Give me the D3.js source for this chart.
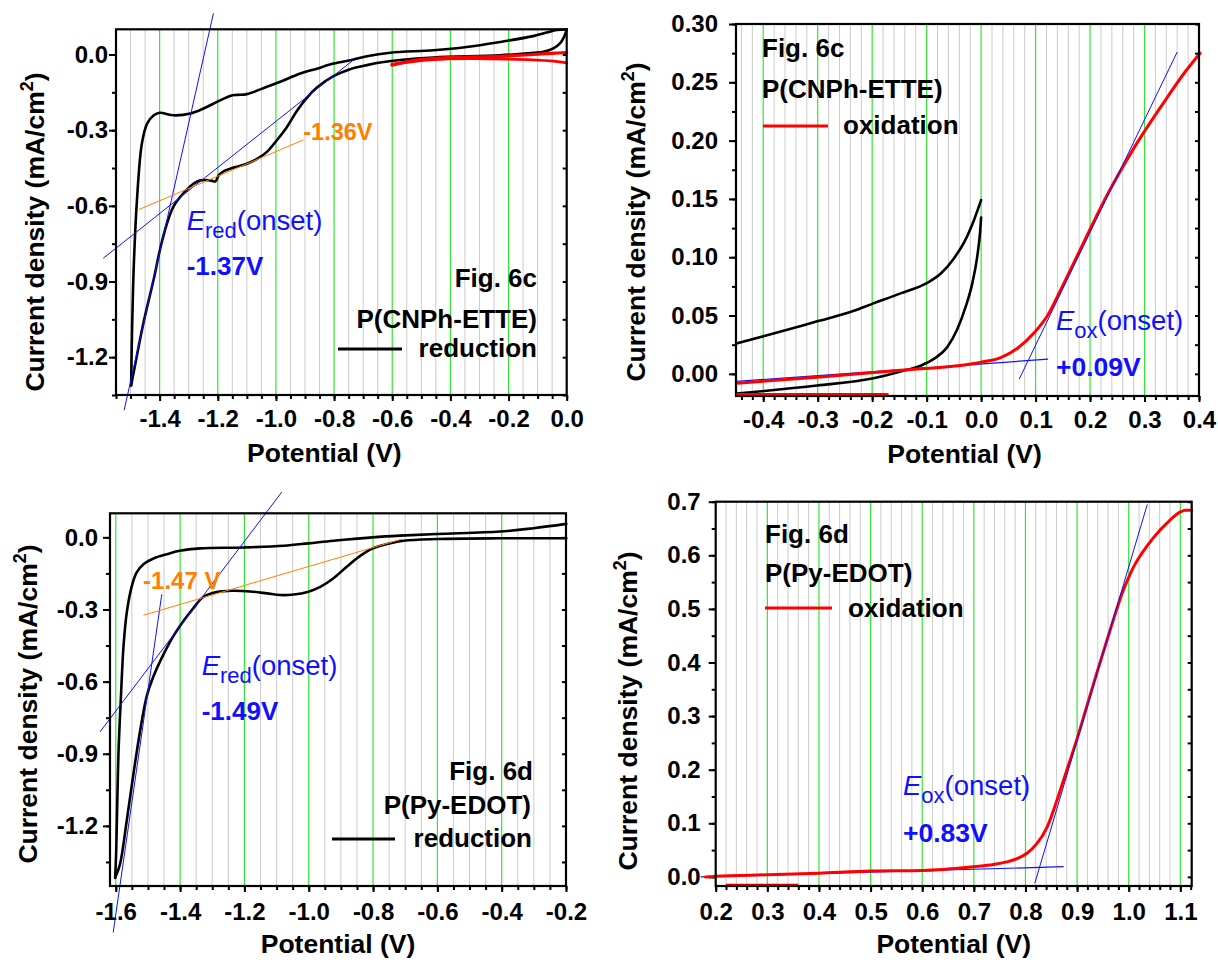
<!DOCTYPE html>
<html>
<head>
<meta charset="utf-8">
<script src="https://cdn.jsdelivr.net/npm/d3@7"></script>
<style>
  body { margin: 0; background: #fff; }
  svg text { font-family: "Liberation Sans", Arial, Helvetica, sans-serif; }
</style>
</head>
<body>
<svg id="chart" width="1218" height="960"></svg>
<script>
// ---------- Fig. 6c : P(CNPh-ETTE) ----------
// reduction CV, cathodic sweep (0 V -> -1.5 V)
const cnphRedForward = [[0,0.099],[-0.009,0.070],[-0.023,0.044],[-0.046,0.024],[-0.080,0.011],[-0.115,0.007],[-0.229,-0.003],[-0.458,-0.012],[-0.573,-0.022],[-0.630,-0.030],[-0.687,-0.042],[-0.745,-0.058],[-0.802,-0.086],[-0.859,-0.131],[-0.893,-0.171],[-0.928,-0.224],[-0.962,-0.287],[-0.997,-0.340],[-1.031,-0.386],[-1.065,-0.414],[-1.100,-0.433],[-1.145,-0.448],[-1.180,-0.463],[-1.197,-0.479],[-1.208,-0.503],[-1.226,-0.499],[-1.260,-0.499],[-1.283,-0.512],[-1.317,-0.549],[-1.352,-0.602],[-1.375,-0.671],[-1.398,-0.770],[-1.420,-0.889],[-1.455,-1.061],[-1.478,-1.193],[-1.498,-1.312]];
// reduction CV, return sweep (-1.5 V -> 0 V)
const cnphRedReverse = [[-1.498,-1.312],[-1.495,-1.107],[-1.489,-0.843],[-1.478,-0.578],[-1.461,-0.353],[-1.443,-0.274],[-1.420,-0.241],[-1.400,-0.231],[-1.352,-0.241],[-1.294,-0.234],[-1.249,-0.214],[-1.203,-0.188],[-1.157,-0.164],[-1.134,-0.160],[-1.100,-0.157],[-1.031,-0.128],[-0.985,-0.108],[-0.916,-0.075],[-0.859,-0.056],[-0.802,-0.036],[-0.733,-0.020],[-0.687,-0.007],[-0.607,0.007],[-0.458,0.017],[-0.344,0.030],[-0.229,0.050],[-0.115,0.073],[-0.069,0.087],[-0.034,0.097],[0,0.099]];
// oxidation trace inside the reduction window
const cnphOxWindowUpper = [[-0.601,-0.042],[-0.515,-0.022],[-0.401,-0.012],[-0.229,-0.007],[-0.115,0.000],[0,0.008]];
const cnphOxWindowLower = [[-0.601,-0.038],[-0.458,-0.020],[-0.344,-0.016],[-0.172,-0.019],[-0.057,-0.025],[0,-0.033]];
// onset construction lines
const cnphRedTangentSteep = [[-1.215,0.163],[-1.522,-1.41]];
const cnphRedTangentBase = [[-1.594,-0.808],[-0.734,-0.022]];
const cnphRedTangentShoulder = [[-1.470,-0.614],[-0.906,-0.339]];

// oxidation window, black sweeps
const cnphScanUpper = [[-0.449,0.026],[-0.393,0.033],[-0.301,0.045],[-0.240,0.053],[-0.200,0.060],[-0.148,0.069],[-0.099,0.078],[-0.074,0.086],[-0.050,0.099],[-0.031,0.113],[-0.013,0.132],[0,0.149]];
const cnphScanLower = [[-0.449,-0.017],[-0.301,-0.010],[-0.200,-0.004],[-0.148,0.002],[-0.111,0.007],[-0.086,0.013],[-0.062,0.023],[-0.044,0.038],[-0.028,0.058],[-0.016,0.078],[-0.007,0.101],[-0.002,0.121],[0,0.134]];
// oxidation sweep
const cnphOxidation = [[-0.449,-0.008],[-0.301,-0.003],[-0.148,0.003],[0,0.010],[0.036,0.014],[0.067,0.022],[0.097,0.035],[0.122,0.050],[0.146,0.072],[0.171,0.096],[0.200,0.124],[0.220,0.143],[0.251,0.170],[0.281,0.194],[0.300,0.208],[0.343,0.238],[0.373,0.258],[0.402,0.275]];
const cnphOxTail = [[-0.449,-0.0172],[-0.170,-0.0172]];
const cnphOxTangentSteep = [[0.070,-0.0045],[0.360,0.276]];
const cnphOxTangentBase = [[-0.449,-0.0065],[0.123,0.0126]];

// ---------- Fig. 6d : P(Py-EDOT) ----------
const pyRedForward = [[-0.199,-0.004],[-0.405,-0.004],[-0.601,-0.007],[-0.705,-0.014],[-0.757,-0.028],[-0.801,-0.046],[-0.840,-0.077],[-0.881,-0.121],[-0.923,-0.170],[-0.964,-0.206],[-1.001,-0.226],[-1.047,-0.238],[-1.089,-0.240],[-1.130,-0.233],[-1.182,-0.225],[-1.234,-0.222],[-1.286,-0.227],[-1.327,-0.247],[-1.358,-0.293],[-1.390,-0.349],[-1.421,-0.411],[-1.452,-0.488],[-1.483,-0.579],[-1.504,-0.662],[-1.524,-0.802],[-1.545,-0.983],[-1.566,-1.179],[-1.587,-1.360],[-1.602,-1.416]];
const pyRedReverse = [[-1.602,-1.416],[-1.599,-1.318],[-1.595,-1.081],[-1.591,-0.872],[-1.584,-0.662],[-1.576,-0.453],[-1.566,-0.314],[-1.550,-0.202],[-1.535,-0.146],[-1.514,-0.112],[-1.483,-0.088],[-1.441,-0.070],[-1.402,-0.056],[-1.338,-0.046],[-1.202,-0.042],[-1.078,-0.035],[-1.001,-0.025],[-0.923,-0.014],[-0.801,0.000],[-0.716,0.007],[-0.601,0.014],[-0.405,0.024],[-0.301,0.038],[-0.199,0.056]];
const pyRedTangentSteep = [[-1.457,-0.237],[-1.608,-1.643]];
const pyRedTangentBase = [[-1.649,-0.809],[-1.084,0.188]];
const pyRedTangentShoulder = [[-1.514,-0.324],[-0.710,-0.007]];

const pyOxidation = [[0.180,0.000],[0.201,0.001],[0.300,0.004],[0.400,0.007],[0.501,0.011],[0.600,0.012],[0.700,0.019],[0.738,0.023],[0.764,0.028],[0.784,0.034],[0.803,0.044],[0.822,0.062],[0.842,0.093],[0.861,0.143],[0.880,0.199],[0.900,0.258],[0.920,0.322],[0.940,0.386],[0.960,0.448],[0.975,0.494],[0.988,0.531],[1.000,0.559],[1.012,0.583],[1.025,0.603],[1.048,0.633],[1.074,0.660],[1.100,0.681],[1.110,0.684],[1.122,0.684]];
const pyOxTail = [[0.220,-0.0148],[0.360,-0.0148]];
const pyOxTangentSteep = [[0.818,-0.012],[1.036,0.695]];
const pyOxTangentBase = [[0.171,0.000],[0.874,0.019]];

// ---------- tick labels ----------
const xTicksA = [-1.4,-1.2,-1.0,-0.8,-0.6,-0.4,-0.2,0.0];
const yTicksA = [0.0,-0.3,-0.6,-0.9,-1.2];
const xTicksB = [-0.4,-0.3,-0.2,-0.1,0.0,0.1,0.2,0.3,0.4];
const yTicksB = [0.00,0.05,0.10,0.15,0.20,0.25,0.30];
const xTicksC = [-1.6,-1.4,-1.2,-1.0,-0.8,-0.6,-0.4,-0.2];
const yTicksC = [0.0,-0.3,-0.6,-0.9,-1.2];
const xTicksD = [0.2,0.3,0.4,0.5,0.6,0.7,0.8,0.9,1.0,1.1];
const yTicksD = [0.0,0.1,0.2,0.3,0.4,0.5,0.6,0.7];

const BLUE = "#1010ff", ORANGE = "#ff8000", RED = "#ff0000";
const svg = d3.select("#chart");

const fmt = dec => v => (v < -1e-9 ? "-" : "") + Math.abs(v).toFixed(dec);
function steps(dom, step) {
  const out = [];
  const lo = Math.ceil(Math.min(...dom) / step - 1e-6), hi = Math.floor(Math.max(...dom) / step + 1e-6);
  for (let i = lo; i <= hi; i++) out.push(+(i * step).toFixed(6));
  return out;
}

function drawPanel(p) {
  const x = d3.scaleLinear().domain(p.xDom).range([p.box.l, p.box.r]);
  const y = d3.scaleLinear().domain(p.yDom).range([p.box.b, p.box.t]);
  const g = svg.append("g");
  const inside = v => x(v) > p.box.l + 1.5 && x(v) < p.box.r - 1.5;
  const isMajor = v => p.xTicks.some(t => Math.abs(t - v) < 1e-6);

  // vertical grid: grey at every minor step, green at labelled ticks
  const gx = steps(p.xDom, p.xMinor).filter(inside);
  g.append("g").selectAll("line").data(gx.filter(v => !isMajor(v))).join("line")
    .attr("x1", d => x(d)).attr("x2", d => x(d)).attr("y1", p.box.t).attr("y2", p.box.b)
    .attr("stroke", "#cbcbcb").attr("stroke-width", 1);
  g.append("g").selectAll("line").data(p.xTicks.filter(inside)).join("line")
    .attr("x1", d => x(d)).attr("x2", d => x(d)).attr("y1", p.box.t).attr("y2", p.box.b)
    .attr("stroke", "#33e633").attr("stroke-width", 1.2);

  const styleAxis = s => {
    s.select(".domain").remove();
    s.selectAll("line").attr("stroke", "#000").attr("stroke-width", 2);
    s.selectAll("text").attr("font-size", 24).attr("font-weight", "bold").attr("fill", "#000")
      .attr("font-family", '"Liberation Sans", Arial, sans-serif');
  };
  // bottom axis: minor then major
  g.append("g").attr("transform", `translate(0,${p.box.b})`)
    .call(d3.axisBottom(x).tickValues(steps(p.xDom, p.xMinor)).tickSize(4).tickSizeOuter(0).tickFormat(() => ""))
    .call(styleAxis);
  g.append("g").attr("transform", `translate(0,${p.box.b})`)
    .call(d3.axisBottom(x).tickValues(p.xTicks).tickSize(6).tickSizeOuter(0).tickPadding(p.xPad).tickFormat(fmt(p.xDec)))
    .call(styleAxis);
  // left axis
  g.append("g").attr("transform", `translate(${p.box.l},0)`)
    .call(d3.axisLeft(y).tickValues(steps(p.yDom, p.yMinor)).tickSize(4).tickSizeOuter(0).tickFormat(() => ""))
    .call(styleAxis);
  g.append("g").attr("transform", `translate(${p.box.l},0)`)
    .call(d3.axisLeft(y).tickValues(p.yTicks).tickSize(7).tickSizeOuter(0).tickPadding(p.yPad).tickFormat(fmt(p.yDec)))
    .call(styleAxis);
  // mirrored inward ticks on the right edge
  g.append("g").attr("transform", `translate(${p.box.r},0)`)
    .call(d3.axisLeft(y).tickValues(steps(p.yDom, p.yMinor)).tickSize(4).tickSizeOuter(0).tickFormat(() => ""))
    .call(styleAxis);

  const loop = d3.line().x(d => x(d[0])).y(d => y(d[1])).curve(d3.curveCatmullRom.alpha(0.5));
  const sweep = d3.line().x(d => x(d[0])).y(d => y(d[1])).curve(d3.curveMonotoneX);
  const straight = d3.line().x(d => x(d[0])).y(d => y(d[1]));

  p.curves.forEach(c => {
    const gen = c.straight ? straight : (c.mono ? sweep : loop);
    g.append("path").attr("d", gen(c.data))
      .attr("fill", "none").attr("stroke", c.color).attr("stroke-width", c.width)
      .attr("stroke-linejoin", "round").attr("stroke-linecap", c.straight ? "butt" : "round");
  });

  // frame
  g.append("rect").attr("x", p.box.l).attr("y", p.box.t)
    .attr("width", p.box.r - p.box.l).attr("height", p.box.b - p.box.t)
    .attr("fill", "none").attr("stroke", "#000").attr("stroke-width", 2.2);

  p.tails.forEach(c => {
    g.append("path").attr("d", straight(c.data)).attr("fill", "none")
      .attr("stroke", c.color).attr("stroke-width", 2);
  });

  // axis titles
  g.append("text").attr("x", (p.box.l + p.box.r) / 2 + p.xtDx).attr("y", p.box.b + 67)
    .attr("text-anchor", "middle").attr("font-size", 26.5).attr("font-weight", "bold").text("Potential (V)");
  const yt = g.append("text").attr("transform", `translate(${p.ytX},${p.ytY}) rotate(-90)`)
    .attr("text-anchor", "middle").attr("font-size", 26.5).attr("font-weight", "bold");
  yt.append("tspan").text("Current density (mA/cm");
  yt.append("tspan").attr("font-size", 18).attr("dy", -11).text("2");
  yt.append("tspan").attr("dy", 11).text(")");

  // onset annotations placed in data coordinates
  p.notes.forEach(n => {
    if (n.onset) {
      const t = g.append("text").attr("x", x(n.at[0])).attr("y", y(n.at[1]))
        .attr("font-size", 27.5).attr("fill", BLUE);
      t.append("tspan").attr("font-style", "italic").text("E");
      t.append("tspan").attr("font-size", 22).attr("dy", 8).text(n.onset);
      t.append("tspan").attr("dy", -8).text("(onset)");
    } else {
      g.append("text").attr("x", x(n.at[0])).attr("y", y(n.at[1]))
        .attr("font-size", n.size).attr("font-weight", "bold").attr("fill", n.color).text(n.text);
    }
  });

  // legend block
  const L = p.legend;
  L.lines.forEach(l => {
    g.append("text").attr("x", l.x).attr("y", l.y).attr("text-anchor", L.align)
      .attr("font-size", 26).attr("font-weight", "bold").attr("fill", "#000").text(l.text);
  });
  g.append("line").attr("x1", L.key.x1).attr("x2", L.key.x2).attr("y1", L.key.y).attr("y2", L.key.y)
    .attr("stroke", L.key.color).attr("stroke-width", 3);
}

const panels = [
  {
    box: { l: 116, r: 566.7, t: 29.3, b: 395 }, xDom: [-1.55, 0], yDom: [-1.35, 0.1],
    xTicks: xTicksA, yTicks: yTicksA, xMinor: 0.05, yMinor: 0.15, xDec: 1, yDec: 1,
    xPad: 9, yPad: 1, xtDx: -17, ytX: 44, ytY: 232,
    curves: [
      { data: cnphRedForward, color: "#000", width: 2.6 },
      { data: cnphRedReverse, color: "#000", width: 2.6 },
      { data: cnphOxWindowUpper, color: RED, width: 3.2 },
      { data: cnphOxWindowLower, color: RED, width: 2.8 },
      { data: cnphRedTangentSteep, color: BLUE, width: 1, straight: true },
      { data: cnphRedTangentBase, color: BLUE, width: 1, straight: true },
      { data: cnphRedTangentShoulder, color: ORANGE, width: 1, straight: true }
    ],
    tails: [],
    notes: [
      { at: [-0.906, -0.339], text: "-1.36V", color: ORANGE, size: 23.5 },
      { at: [-1.307, -0.696], onset: "red" },
      { at: [-1.307, -0.874], text: "-1.37V", color: BLUE, size: 26 }
    ],
    legend: { align: "end", lines: [
      { x: 537, y: 287, text: "Fig. 6c" },
      { x: 537, y: 328, text: "P(CNPh-ETTE)" },
      { x: 537, y: 357, text: "reduction" }
    ], key: { x1: 338, x2: 402, y: 349, color: "#000" } }
  },
  {
    box: { l: 736, r: 1199, t: 24, b: 396 }, xDom: [-0.45, 0.4], yDom: [-0.019, 0.30],
    xTicks: xTicksB, yTicks: yTicksB, xMinor: 0.02, yMinor: 0.025, xDec: 1, yDec: 2,
    xPad: 9, yPad: 11, xtDx: -3, ytX: 645, ytY: 222,
    curves: [
      { data: cnphScanUpper, color: "#000", width: 2.6, mono: true },
      { data: cnphScanLower, color: "#000", width: 2.6, mono: true },
      { data: cnphOxTangentBase, color: BLUE, width: 1.2, straight: true },
      { data: cnphOxidation, color: RED, width: 3, mono: true },
      { data: cnphOxTangentSteep, color: BLUE, width: 1, straight: true }
    ],
    tails: [{ data: cnphOxTail, color: RED }],
    notes: [
      { at: [0.1375, 0.0376], onset: "ox" },
      { at: [0.1375, -0.0019], text: "+0.09V", color: BLUE, size: 26.5 }
    ],
    legend: { align: "start", lines: [
      { x: 762, y: 57, text: "Fig. 6c" },
      { x: 762, y: 98, text: "P(CNPh-ETTE)" },
      { x: 843, y: 134, text: "oxidation" }
    ], key: { x1: 763, x2: 828, y: 126, color: RED } }
  },
  {
    box: { l: 110, r: 566, t: 513.3, b: 886 }, xDom: [-1.618, -0.2], yDom: [-1.45, 0.1],
    xTicks: xTicksC, yTicks: yTicksC, xMinor: 0.05, yMinor: 0.15, xDec: 1, yDec: 1,
    xPad: 11, yPad: 5, xtDx: 0, ytX: 37, ytY: 704,
    curves: [
      { data: pyRedForward, color: "#000", width: 2.6 },
      { data: pyRedReverse, color: "#000", width: 2.6 },
      { data: pyRedTangentSteep, color: BLUE, width: 1, straight: true },
      { data: pyRedTangentBase, color: BLUE, width: 1, straight: true },
      { data: pyRedTangentShoulder, color: ORANGE, width: 1, straight: true }
    ],
    tails: [],
    notes: [
      { at: [-1.515, -0.215], text: "-1.47 V", color: ORANGE, size: 24 },
      { at: [-1.333, -0.573], onset: "red" },
      { at: [-1.333, -0.759], text: "-1.49V", color: BLUE, size: 26 }
    ],
    legend: { align: "end", lines: [
      { x: 533, y: 780, text: "Fig. 6d" },
      { x: 531, y: 814, text: "P(Py-EDOT)" },
      { x: 532, y: 847, text: "reduction" }
    ], key: { x1: 332, x2: 395, y: 839, color: "#000" } }
  },
  {
    box: { l: 715.7, r: 1191.7, t: 501.7, b: 886 }, xDom: [0.2, 1.122], yDom: [-0.017, 0.7],
    xTicks: xTicksD, yTicks: yTicksD, xMinor: 0.02, yMinor: 0.05, xDec: 1, yDec: 1,
    xPad: 11, yPad: 8, xtDx: 0, ytX: 637, ytY: 711,
    curves: [
      { data: pyOxTangentBase, color: BLUE, width: 1.2, straight: true },
      { data: pyOxidation, color: RED, width: 3, mono: true },
      { data: pyOxTangentSteep, color: BLUE, width: 1, straight: true }
    ],
    tails: [{ data: pyOxTail, color: "#c00000" }],
    notes: [
      { at: [0.5628, 0.1528], onset: "ox" },
      { at: [0.5628, 0.0651], text: "+0.83V", color: BLUE, size: 26.5 }
    ],
    legend: { align: "start", lines: [
      { x: 765, y: 543, text: "Fig. 6d" },
      { x: 765, y: 582, text: "P(Py-EDOT)" },
      { x: 848, y: 617, text: "oxidation" }
    ], key: { x1: 765, x2: 832, y: 608, color: RED } }
  }
];

panels.forEach(drawPanel);
</script>
</body>
</html>
